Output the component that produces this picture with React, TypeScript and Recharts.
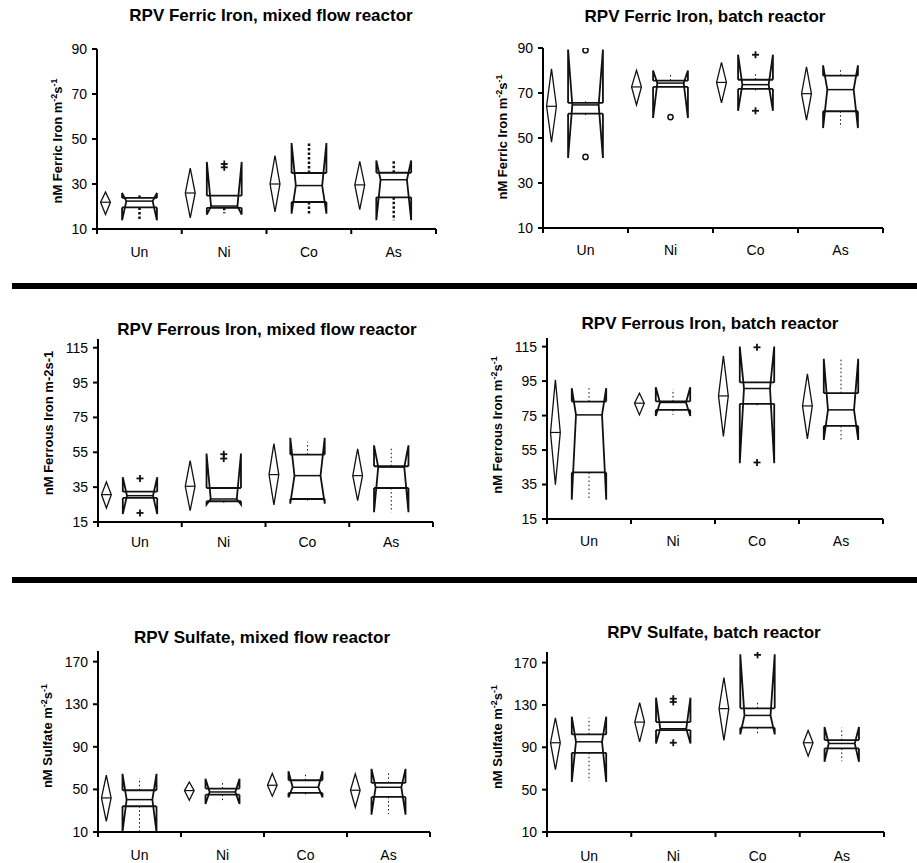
import React from "react";
import { Bar, ComposedChart, XAxis, YAxis } from "recharts";

const FONT = "'Liberation Sans', Arial, Helvetica, sans-serif";

const categories = ["Un", "Ni", "Co", "As"];

const ferricTicks = [10, 30, 50, 70, 90];
const ferrousTicks = [15, 35, 55, 75, 95, 115];
const sulfateTicks = [10, 50, 90, 130, 170];

// mean diamonds: [lower, mean, upper]
// notched boxes: [notch low, Q1, median, Q3, notch high]
// whiskers: [low, high]
// outliers: [value, marker]

const ferricMixedMeans = [[16.4, 21.9, 26.4], [14.9, 26, 37.1], [17.6, 30, 42.6], [18.6, 29.6, 40.1]];
const ferricMixedBoxes = [[13.9, 19.6, 22.4, 23.8, 26], [16.4, 19.4, 20.2, 24.8, 39.8], [16.8, 22, 29.3, 34.9, 48.2], [13.9, 24.1, 31.9, 35, 40.5]];
const ferricMixedWhiskers = [[14, 25.5], [17, 24.8], [16.8, 48.2], [13.9, 40.5]];
const ferricMixedOutliers = [[], [[37.4, "+"], [38.9, "+"]], [], []];

const ferricBatchMeans = [[48.1, 64.1, 80.7], [64.7, 72.7, 80.1], [65.6, 74.7, 83.6], [57.9, 69.7, 81.6]];
const ferricBatchBoxes = [[41.1, 60.8, 64.7, 65.6, 89.3], [58.9, 72.7, 74.4, 75.5, 80], [62.1, 71.8, 73.7, 75.9, 87], [54.4, 61.9, 71.5, 77.7, 82.3]];
const ferricBatchWhiskers = [[59.4, 66.3], [72.7, 78], [70.7, 78.9], [54.7, 80.8]];
const ferricBatchOutliers = [[[89, "o"], [41.6, "o"]], [[59.3, "o"]], [[87, "+"], [62.1, "+"]], []];

const ferrousMixedMeans = [[23, 30.7, 38], [21.5, 35.5, 50.2], [24.8, 42.2, 60], [27.3, 41.6, 57]];
const ferrousMixedBoxes = [[19.6, 28.8, 30.1, 32.4, 40.7], [25, 26.9, 28.2, 34.5, 54.3], [25.5, 28.2, 41.6, 53.7, 63.3], [20.6, 34.5, 46.5, 47, 59]];
const ferrousMixedWhiskers = [[28.8, 32.4], [25, 34.5], [26.3, 61], [20.6, 57.9]];
const ferrousMixedOutliers = [[[40, "+"], [20.2, "+"]], [[53.9, "+"], [51.4, "+"]], [], []];

const ferrousBatchMeans = [[34.9, 65.2, 95.7], [75.4, 82.2, 88], [62.9, 86.4, 109.6], [61.5, 80.6, 99.2]];
const ferrousBatchBoxes = [[26.2, 42, 75.4, 83.1, 90.9], [74.8, 78.3, 82.6, 83.2, 91.4], [47.4, 81.8, 90.7, 94.2, 115], [60.9, 69, 78.3, 88, 107.9]];
const ferrousBatchWhiskers = [[26.2, 90.9], [75.4, 90.3], [80.2, 94.6], [61, 108]];
const ferrousBatchOutliers = [[], [], [[114.6, "+"], [47.8, "+"]], []];

const sulfateMixedMeans = [[20, 42, 63.3], [39.8, 48.9, 57], [43.6, 53.9, 64.9], [33.2, 49.2, 64.6]];
const sulfateMixedBoxes = [[10, 34.2, 40.4, 49.2, 64.6], [36.4, 45.1, 47.6, 50.8, 59.9], [42.6, 46.7, 52, 58.6, 67.1], [26.3, 42.9, 52, 56.1, 69.3]];
const sulfateMixedWhiskers = [[10, 60.8], [37.9, 57], [42.9, 64.6], [26.9, 67]];
const sulfateMixedOutliers = [[], [], [], []];

const sulfateBatchMeans = [[69, 94.3, 117.9], [95.2, 113.8, 132.1], [96.5, 126.5, 155.8], [81.6, 94.3, 105.9]];
const sulfateBatchBoxes = [[57.3, 84.8, 95.2, 102.2, 118.9], [93.6, 106.3, 107.5, 113.8, 136.9], [102.2, 108.5, 120.1, 126.8, 177.9], [76.3, 88.9, 93.6, 96.8, 109.1]];
const sulfateBatchWhiskers = [[58, 118], [106.3, 113.8], [103.1, 132.1], [76.9, 108.5]];
const sulfateBatchOutliers = [[], [[135.9, "+"], [132.8, "+"], [94.3, "+"]], [[177.3, "+"]], []];

function buildRows(means: number[][], boxes: number[][], whiskers: number[][], outliers: any[][]) {
  return categories.map((cat, i) => {
    const vals = [...means[i], ...boxes[i], ...whiskers[i], ...outliers[i].map((o: any) => o[0])];
    return {
      cat,
      range: [Math.min(...vals), Math.max(...vals)],
      mean: means[i],
      box: boxes[i],
      whisker: whiskers[i],
      outliers: outliers[i],
    };
  });
}

const panels = [
  { title: "RPV Ferric Iron, mixed flow reactor", name: "Ferric Iron", sup: true, ticks: ferricTicks, domain: [10, 90], heavy: true,
    rows: buildRows(ferricMixedMeans, ferricMixedBoxes, ferricMixedWhiskers, ferricMixedOutliers) },
  { title: "RPV Ferric Iron, batch reactor", name: "Ferric Iron", sup: true, ticks: ferricTicks, domain: [10, 90], heavy: false,
    rows: buildRows(ferricBatchMeans, ferricBatchBoxes, ferricBatchWhiskers, ferricBatchOutliers) },
  { title: "RPV Ferrous Iron, mixed flow reactor", name: "Ferrous Iron", sup: false, ticks: ferrousTicks, domain: [15, 120], heavy: false,
    rows: buildRows(ferrousMixedMeans, ferrousMixedBoxes, ferrousMixedWhiskers, ferrousMixedOutliers) },
  { title: "RPV Ferrous Iron, batch reactor", name: "Ferrous Iron", sup: true, ticks: ferrousTicks, domain: [15, 120], heavy: false,
    rows: buildRows(ferrousBatchMeans, ferrousBatchBoxes, ferrousBatchWhiskers, ferrousBatchOutliers) },
  { title: "RPV Sulfate, mixed flow reactor", name: "Sulfate", sup: true, ticks: sulfateTicks, domain: [10, 180], heavy: false,
    rows: buildRows(sulfateMixedMeans, sulfateMixedBoxes, sulfateMixedWhiskers, sulfateMixedOutliers) },
  { title: "RPV Sulfate, batch reactor", name: "Sulfate", sup: true, ticks: sulfateTicks, domain: [10, 180], heavy: false,
    rows: buildRows(sulfateBatchMeans, sulfateBatchBoxes, sulfateBatchWhiskers, sulfateBatchOutliers) },
];

// page layout: chart box, plot rect, title and axis label anchors
const layouts = [
  { chart: [0, 0, 458, 280], plot: [97, 49, 436, 229], title: [271, 21], label: [57, 141], xDy: 28 },
  { chart: [458, 0, 459, 280], plot: [543, 48, 883, 228], title: [705, 22], label: [502, 137], xDy: 27 },
  { chart: [0, 290, 458, 285], plot: [98, 339, 433, 522], title: [267, 335], label: [48, 423], xDy: 25 },
  { chart: [458, 290, 459, 285], plot: [547, 338, 883, 519], title: [710, 329], label: [497, 425], xDy: 27 },
  { chart: [0, 585, 458, 278], plot: [98, 651, 430, 832], title: [262, 643], label: [47, 736], xDy: 28 },
  { chart: [458, 585, 459, 278], plot: [547, 652, 884, 832], title: [714, 638], label: [497, 737], xDy: 29 },
];

const Y_W = 60;
const X_H = 30;

function NotchShape(props: any) {
  const { x, y, width, height, payload, heavy } = props;
  if (!payload) return null;
  const [lo, hi] = payload.range;
  const top = Math.min(y, y + height);
  const bottom = Math.max(y, y + height);
  const py = (v: number) => bottom - ((v - lo) / (hi - lo)) * (bottom - top);
  const [mLo, mean, mHi] = payload.mean;
  const [nLo, q1, med, q3, nHi] = payload.box;
  const [wLo, wHi] = payload.whisker;

  const dx = x + width * 0.1;
  const dw = width * 0.058;
  const cx = x + width / 2;
  const hw = width * 0.205;
  const L = cx - hw;
  const R = cx + hw;
  const n = width * 0.05;

  const side = (e: number, s: number) =>
    `M${e},${py(q3)} L${e},${py(nHi)} L${e + s},${py(med)} L${e},${py(nLo)} L${e},${py(q1)}`;
  const wStyle = heavy
    ? { strokeWidth: 2.5, strokeDasharray: "2.5 2" }
    : { strokeWidth: 1, strokeDasharray: "1.5 2.5" };

  return (
    <g fill="none" stroke="#111">
      <path
        d={`M${dx},${py(mHi)} L${dx + dw},${py(mean)} L${dx},${py(mLo)} L${dx - dw},${py(mean)} Z`}
        strokeWidth={1.3}
      />
      <line x1={dx - dw} x2={dx + dw} y1={py(mean)} y2={py(mean)} strokeWidth={1.2} />

      {wHi > q3 && <line x1={cx} x2={cx} y1={py(q3)} y2={py(wHi)} {...wStyle} />}
      {wLo < q1 && <line x1={cx} x2={cx} y1={py(q1)} y2={py(wLo)} {...wStyle} />}

      <path d={side(L, n)} strokeWidth={1.8} strokeLinejoin="miter" />
      <path d={side(R, -n)} strokeWidth={1.8} strokeLinejoin="miter" />
      <line x1={L} x2={R} y1={py(q3)} y2={py(q3)} strokeWidth={1.8} />
      <line x1={L} x2={R} y1={py(q1)} y2={py(q1)} strokeWidth={1.8} />
      <line x1={L + n} x2={R - n} y1={py(med)} y2={py(med)} strokeWidth={1.5} />

      {payload.outliers.map((o: any, k: number) =>
        o[1] === "o" ? (
          <circle key={k} cx={cx} cy={py(o[0])} r={2.6} strokeWidth={1.5} />
        ) : (
          <g key={k} strokeWidth={1.8}>
            <line x1={cx - 3.5} x2={cx + 3.5} y1={py(o[0])} y2={py(o[0])} />
            <line x1={cx} x2={cx} y1={py(o[0]) - 3.5} y2={py(o[0]) + 3.5} />
          </g>
        )
      )}
    </g>
  );
}

function CatTick(props: any) {
  const { x, y, payload, index, visibleTicksCount, width, xDy } = props;
  const half = payload && payload.offset ? payload.offset : width / visibleTicksCount / 2;
  return (
    <g>
      <line x1={x - half} x2={x - half} y1={y} y2={y + 5} stroke="#000" strokeWidth={2} />
      {index === visibleTicksCount - 1 && (
        <line x1={x + half} x2={x + half} y1={y} y2={y + 5} stroke="#000" strokeWidth={2} />
      )}
      <text x={x} y={y + xDy} textAnchor="middle" fontSize={14} fontFamily={FONT} fill="#000">
        {payload.value}
      </text>
    </g>
  );
}

function Panel({ p, lay }: { p: any; lay: any }) {
  const [cl, ct, cw, ch] = lay.chart;
  const [pl, pt, pr, pb] = lay.plot;
  const margin = {
    top: pt - ct,
    left: pl - cl - Y_W,
    right: cl + cw - pr,
    bottom: ct + ch - pb - X_H,
  };
  return (
    <div style={{ position: "absolute", left: cl, top: ct }}>
      <ComposedChart width={cw} height={ch} data={p.rows} margin={margin} barCategoryGap={0}>
        <XAxis
          dataKey="cat"
          height={X_H}
          interval={0}
          tickSize={0}
          tickMargin={0}
          tickLine={false}
          axisLine={{ stroke: "#000", strokeWidth: 2 }}
          tick={(t: any) => <CatTick {...t} xDy={lay.xDy} />}
        />
        <YAxis
          type="number"
          width={Y_W}
          domain={p.domain}
          ticks={p.ticks}
          interval={0}
          allowDataOverflow
          tickSize={5}
          tickMargin={5}
          axisLine={{ stroke: "#000", strokeWidth: 2 }}
          tickLine={{ stroke: "#000", strokeWidth: 2 }}
          tick={{ fill: "#000", fontSize: 14, fontFamily: FONT }}
        />
        <Bar
          dataKey="range"
          isAnimationActive={false}
          shape={(s: any) => <NotchShape {...s} heavy={p.heavy} />}
        />
      </ComposedChart>
    </div>
  );
}

function AxisLabel({ p, lay }: { p: any; lay: any }) {
  const [lx, ly] = lay.label;
  return (
    <text
      transform={`translate(${lx},${ly}) rotate(-90)`}
      x={0}
      y={4.5}
      textAnchor="middle"
      fontSize={13}
      fontWeight="bold"
      fontFamily={FONT}
      fill="#000"
    >
      {p.sup ? (
        <>
          <tspan>{`nM ${p.name} m`}</tspan>
          <tspan fontSize={9} dy={-5}>-2</tspan>
          <tspan dy={5}>s</tspan>
          <tspan fontSize={9} dy={-5}>-1</tspan>
        </>
      ) : (
        <tspan>{`nM ${p.name} m-2s-1`}</tspan>
      )}
    </text>
  );
}

export default function App() {
  return (
    <div
      style={{
        position: "absolute",
        left: 0,
        top: 0,
        width: 917,
        height: 863,
        background: "#fff",
        overflow: "hidden",
        fontFamily: FONT,
      }}
    >
      {panels.map((p, i) => (
        <Panel key={i} p={p} lay={layouts[i]} />
      ))}
      <div style={{ position: "absolute", left: 12, top: 283, width: 905, height: 6, background: "#000" }} />
      <div style={{ position: "absolute", left: 12, top: 577, width: 905, height: 6, background: "#000" }} />
      <svg
        width={917}
        height={863}
        style={{ position: "absolute", left: 0, top: 0, pointerEvents: "none" }}
      >
        {panels.map((p, i) => (
          <g key={i}>
            <text
              x={layouts[i].title[0]}
              y={layouts[i].title[1]}
              textAnchor="middle"
              fontSize={17}
              fontWeight="bold"
              fontFamily={FONT}
              fill="#000"
            >
              {p.title}
            </text>
            <AxisLabel p={p} lay={layouts[i]} />
          </g>
        ))}
      </svg>
    </div>
  );
}
